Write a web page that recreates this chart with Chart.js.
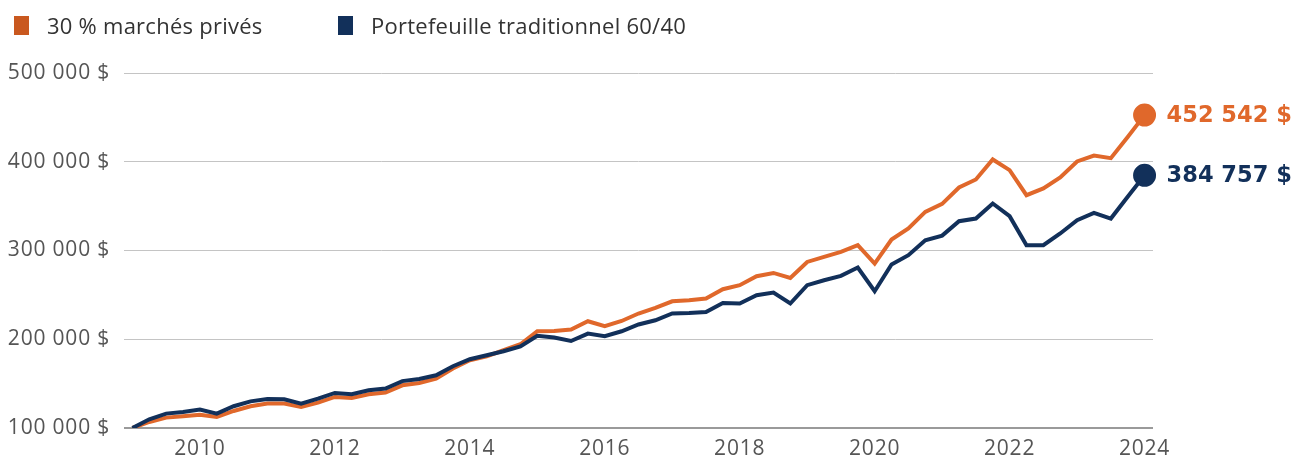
<!DOCTYPE html>
<html lang="fr">
<head>
<meta charset="utf-8">
<script src="https://cdn.jsdelivr.net/npm/chart.js@4.4.1/dist/chart.umd.min.js"></script>
<style>
  body { margin: 0; background: #fff; font-family: "Open Sans", sans-serif; }
  #wrap { position: relative; width: 1296px; height: 459px; }
  .leg { position: absolute; top: 10px; display: flex; align-items: center; font-size: 22px; letter-spacing: 0.25px; color: #333; }
  .leg i { display: inline-block; width: 15px; height: 19px; margin-right: 18px; }
</style>
</head>
<body>
<div id="wrap">
  <canvas id="chart" width="1296" height="459"></canvas>
  <div class="leg" style="left:14px"><i style="background:#c9581f"></i><span id="lab0"></span></div>
  <div class="leg" style="left:338px"><i style="background:#12305a"></i><span id="lab1"></span></div>
</div>
<script>
// series names
const seriesNames = ['30 % marchés privés', 'Portefeuille traditionnel 60/40'];

// quarterly points, 2009 T1 .. 2024 T1
const quarters = [];
for (let i = 0; i < 61; i++) {
  quarters.push((2009 + Math.floor(i / 4)) + ' T' + (i % 4 + 1));
}

// years shown under the x axis
const yearTicks = ['2010', '2012', '2014', '2016', '2018', '2020', '2022', '2024'];

// y axis ticks
const yTicks = [100000, 200000, 300000, 400000, 500000];

const privateMarkets = [
  100000, 106800, 111700, 113200, 115000, 112400, 119200, 124500, 127500, 127500,
  123700, 128600, 135000, 133800, 138000, 139900, 148100, 150700, 155700, 167000,
  176300, 180800, 187600, 194400, 209000, 209400, 211000, 220300, 214700, 220600,
  229000, 235300, 242800, 244000, 245900, 256400, 260900, 271000, 274700, 269100,
  287100, 292800, 298400, 306000, 285300, 312400, 324800, 343500, 352600, 371000,
  380000, 402600, 390500, 362300, 369900, 382300, 400300, 407000, 404000, 428000,
  452542
];

const traditional = [
  100000, 109800, 116200, 118000, 120700, 116200, 124500, 130000, 132700, 132400,
  127500, 133000, 139500, 138000, 142500, 144400, 152800, 155200, 159400, 169600,
  177500, 182000, 186500, 192000, 204000, 201900, 198000, 206400, 203400, 209000,
  216600, 221400, 229000, 229600, 230800, 240900, 240300, 249600, 252600, 240300,
  260900, 266500, 271400, 280800, 254100, 284200, 294700, 311600, 316800, 333000,
  336000, 353000, 338700, 306000, 306000, 319200, 334200, 342400, 336000, 360500,
  384757
];

const ORANGE = '#e0682b';
const NAVY = '#12305a';

document.getElementById('lab0').textContent = seriesNames[0];
document.getElementById('lab1').textContent = seriesNames[1];

const fmt = v => Math.round(v).toString().replace(/\B(?=(\d{3})+(?!\d))/g, ' ') + ' $';

const lastIdx = quarters.length - 1;

// a bit of tracking for the axis labels, like the original typeface
const tracking = {
  id: 'tracking',
  beforeDraw(chart) { chart.ctx.letterSpacing = '0.8px'; },
  afterDraw(chart) { chart.ctx.letterSpacing = '0px'; }
};

const endLabels = {
  id: 'endLabels',
  afterDatasetsDraw(chart) {
    const ctx = chart.ctx;
    ctx.save();
    ctx.letterSpacing = '0px';
    ctx.font = 'bold 22.5px "DejaVu Sans", sans-serif';
    ctx.textBaseline = 'middle';
    chart.data.datasets.forEach((ds, i) => {
      const pt = chart.getDatasetMeta(i).data[lastIdx];
      ctx.fillStyle = ds.borderColor;
      ctx.fillText(fmt(ds.data[lastIdx]), pt.x + 22, pt.y + 1);
    });
    ctx.restore();
  }
};

new Chart(document.getElementById('chart'), {
  type: 'line',
  data: {
    labels: quarters,
    datasets: [
      {
        label: seriesNames[0],
        data: privateMarkets,
        borderColor: ORANGE,
        backgroundColor: ORANGE,
        borderWidth: 4,
        order: 1
      },
      {
        label: seriesNames[1],
        data: traditional,
        borderColor: NAVY,
        backgroundColor: NAVY,
        borderWidth: 4,
        order: 0
      }
    ]
  },
  options: {
    responsive: false,
    animation: false,
    layout: { padding: { top: 73, right: 143, left: 0, bottom: 0 } },
    elements: {
      line: { tension: 0, borderJoinStyle: 'miter' },
      point: {
        radius: ctx => ctx.dataIndex === lastIdx ? 9.5 : 0,
        borderWidth: 0,
        hoverRadius: 0
      }
    },
    plugins: {
      legend: { display: false },
      tooltip: { enabled: false }
    },
    scales: {
      x: {
        offset: true,
        grid: { display: false, drawTicks: false },
        border: { display: false },
        afterFit: s => { s.height = 31; },
        ticks: {
          autoSkip: false,
          maxRotation: 0,
          padding: 8,
          color: '#555',
          font: { family: 'Open Sans', size: 21 },
          callback: (v, i) => {
            const y = quarters[i].slice(0, 4);
            return quarters[i].endsWith('T1') && yearTicks.includes(y) ? y : '';
          }
        }
      },
      y: {
        min: yTicks[0],
        max: yTicks[yTicks.length - 1],
        afterFit: s => { s.width = 124; },
        afterBuildTicks: s => { s.ticks = yTicks.map(v => ({ value: v })); },
        border: { display: false },
        grid: {
          drawTicks: false,
          color: c => c.index === 0 ? '#9a9a9a' : '#c4c4c4',
          lineWidth: c => c.index === 0 ? 2 : 1
        },
        ticks: {
          padding: 14,
          color: '#555',
          font: { family: 'Open Sans', size: 21 },
          callback: v => fmt(v)
        }
      }
    }
  },
  plugins: [tracking, endLabels]
});
</script>
</body>
</html>
